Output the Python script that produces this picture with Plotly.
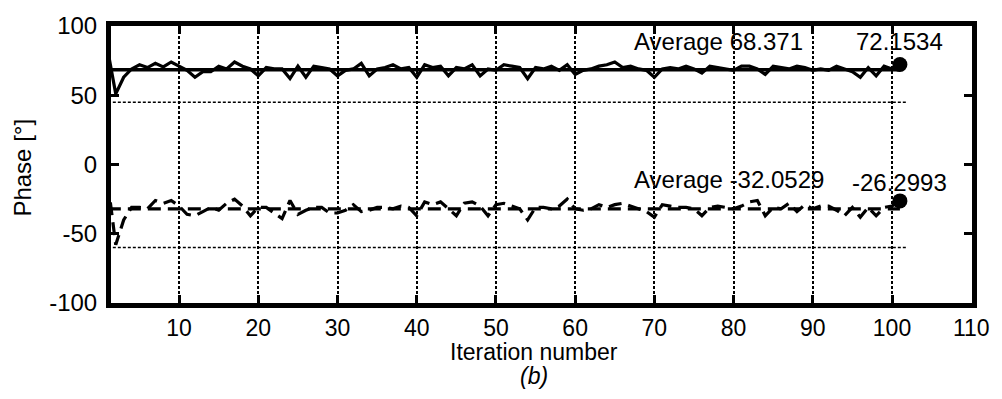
import plotly.graph_objects as go

# ---------------- data ----------------
iterations = list(range(1, 102))

phase_upper = [
    82, 51, 63, 69, 72, 70, 73, 70.5, 74, 71,
    68, 63, 67, 67, 71, 69, 74, 71, 69, 64,
    70, 69, 69, 62, 71, 63, 71, 70, 69, 64,
    68, 69, 73, 64, 69, 70, 72, 69, 70, 63,
    72, 70, 71, 64, 70, 69, 72, 64, 69, 68,
    72, 71, 70, 62, 70, 69, 71, 68, 72, 65,
    68, 69, 71, 72, 74, 70, 71, 69, 68, 63,
    69, 70, 69, 71, 69, 66, 71, 70, 69, 68,
    71, 71, 69, 65, 71, 70, 69, 71, 70, 68,
    69, 68, 71, 69, 67, 63, 70, 64, 71, 69,
    72.1534,
]

phase_lower = [
    -13, -58, -40, -31, -31, -32, -26, -28, -26, -30,
    -36, -37, -34, -31, -33, -28, -25, -30, -37, -31,
    -31, -35, -39, -26, -36, -33, -31, -31, -35, -35,
    -33, -29, -34, -33, -31, -31, -32, -30, -31, -37,
    -27, -29, -27, -32, -37, -28, -27, -30, -37, -29,
    -28, -30, -32, -40, -31, -31, -32, -30, -25, -32,
    -33, -32, -29, -31, -29, -28, -30, -32, -34, -38,
    -29, -30, -31, -31, -32, -37, -31, -30, -31, -32,
    -30, -27, -26, -37, -31, -32, -28, -34, -29, -32,
    -30, -30, -33, -37, -31, -38, -31, -37, -31, -30,
    -26.2993,
]

avg_upper = 68.371
avg_lower = -32.0529
final_iter = 101
final_upper = 72.1534
final_lower = -26.2993
ref_levels = [45, -60]
ref_span = [1, 102]

x_ticks = [10, 20, 30, 40, 50, 60, 70, 80, 90, 100, 110]
y_ticks = [-100, -50, 0, 50, 100]
y_tick_labels = ["-100", "-50", "0", "50", "100"]

FONT = "Liberation Sans, Arial, Helvetica, sans-serif"
FS = 24

fig = go.Figure()

# dotted reference lines
for lvl in ref_levels:
    fig.add_trace(go.Scatter(x=ref_span, y=[lvl, lvl], mode="lines",
                             line=dict(color="black", width=1.5, dash="3px,2px"),
                             hoverinfo="skip", showlegend=False))

# average lines
fig.add_trace(go.Scatter(x=[iterations[0], iterations[-1]], y=[avg_upper, avg_upper],
                         mode="lines", line=dict(color="black", width=3.4),
                         showlegend=False))
fig.add_trace(go.Scatter(x=[iterations[0], iterations[-1]], y=[avg_lower, avg_lower],
                         mode="lines", line=dict(color="black", width=3.4, dash="13px,7px"),
                         showlegend=False))

# data series
fig.add_trace(go.Scatter(x=iterations, y=phase_upper, mode="lines",
                         line=dict(color="black", width=3.2), showlegend=False))
fig.add_trace(go.Scatter(x=iterations, y=phase_lower, mode="lines",
                         line=dict(color="black", width=3.2, dash="13px,7px"),
                         showlegend=False))

# final markers
fig.add_trace(go.Scatter(x=[final_iter, final_iter], y=[final_upper, final_lower],
                         mode="markers", marker=dict(color="black", size=15),
                         showlegend=False, cliponaxis=False))

annotations = [
    dict(x=67.2, y=88.5, xref="x", yref="y", text=f"Average {avg_upper:g}",
         xanchor="left", yanchor="middle", showarrow=False),
    dict(x=final_iter, y=88.5, xref="x", yref="y", text=f"{final_upper:g}",
         xanchor="center", yanchor="middle", showarrow=False),
    dict(x=67.2, y=-11, xref="x", yref="y", text=f"Average {avg_lower:g}",
         xanchor="left", yanchor="middle", showarrow=False),
    dict(x=final_iter, y=-13, xref="x", yref="y", text=f"{final_lower:g}",
         xanchor="center", yanchor="middle", showarrow=False),
    dict(x=-0.103, y=0.49, xref="paper", yref="paper", text="Phase [°]",
         textangle=-90, xanchor="center", yanchor="middle", showarrow=False),
    dict(x=0.491, y=-0.178, xref="paper", yref="paper", text="Iteration number",
         font=dict(size=23), xanchor="center", yanchor="middle", showarrow=False),
    dict(x=0.491, y=-0.262, xref="paper", yref="paper", text="<i>(b)</i>",
         font=dict(size=23), xanchor="center", yanchor="middle", showarrow=False),
]

fig.update_layout(
    width=1002, height=399,
    margin=dict(l=111, r=25, t=18, b=96),
    paper_bgcolor="white", plot_bgcolor="white",
    font=dict(family=FONT, size=FS, color="black"),
    annotations=annotations,
    showlegend=False,
)

fig.update_xaxes(
    range=[1.4, 110.1], tickvals=x_ticks, ticktext=[str(t) for t in x_ticks],
    showgrid=True, gridcolor="black", gridwidth=1.5, griddash="3px,2px",
    zeroline=False, showline=True, linecolor="black", linewidth=5,
    mirror="ticks", ticks="inside", ticklen=8, tickwidth=3, tickcolor="black",
    tickfont=dict(family=FONT, size=23, color="black"),
)
fig.update_yaxes(
    range=[-100, 100], tickvals=y_ticks, ticktext=y_tick_labels,
    showgrid=False, zeroline=False, showline=True, linecolor="black", linewidth=5,
    mirror="ticks", ticks="inside", ticklen=8, tickwidth=3, tickcolor="black",
    ticklabelstandoff=4,
    tickfont=dict(family=FONT, size=FS, color="black"),
)

fig.write_html("out.html")
